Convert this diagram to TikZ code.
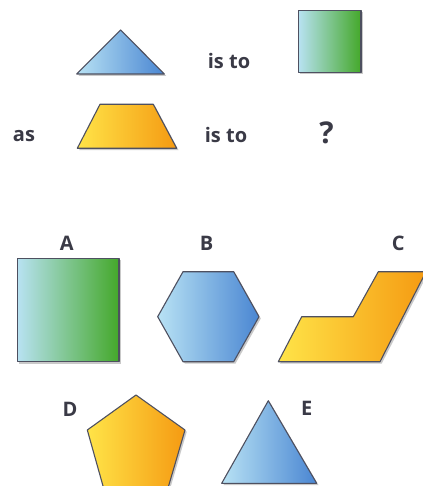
\documentclass[tikz,border=0pt]{standalone}
\usepackage{fontspec}
\setmainfont{Open Sans}
\definecolor{txt}{HTML}{3A3A46}
\definecolor{edge}{HTML}{4E5060}
\definecolor{bluelt}{HTML}{B8E2F4}
\definecolor{bluedk}{HTML}{4A86D2}
\definecolor{greenlt}{HTML}{B8E2F2}
\definecolor{greendk}{HTML}{44A82A}
\definecolor{yellt}{HTML}{FFE448}
\definecolor{yeldk}{HTML}{F59A12}
\tikzset{
  lbl/.style={font=\bfseries\fontsize{20}{24}\selectfont, text=txt, inner sep=0pt},
  shp/.style={draw=edge, line width=1.1pt, line join=round},
  blueshp/.style={shp, left color=bluelt, right color=bluedk},
  greenshp/.style={shp, left color=greenlt, right color=greendk},
  yelshp/.style={shp, left color=yellt, right color=yeldk},
  shadow/.style={fill=black!35, draw=none, opacity=0.6, shift={(1.8,1.8)}}
}
\begin{document}
\begin{tikzpicture}[x=1pt,y=-1pt]
\useasboundingbox (0,0) rectangle (422,486);
\fill[white] (0,0) rectangle (422,486);
% top row
\fill[shadow] (120.7,30) -- (164.3,74) -- (76.7,74) -- cycle;
\draw[blueshp] (120.7,30) -- (164.3,74) -- (76.7,74) -- cycle;
\node[lbl] (isto1) at (229,61) {is to};
\fill[shadow] (298.3,10.7) rectangle (361,72.7);
\draw[greenshp] (298.3,10.7) rectangle (361,72.7);
% second row
\node[lbl] (as) at (24,136) {as};
\fill[shadow] (100,104.3) -- (153.3,104.3) -- (176.7,148.3) -- (77.3,148.3) -- cycle;
\draw[yelshp] (100,104.3) -- (153.3,104.3) -- (176.7,148.3) -- (77.3,148.3) -- cycle;
\node[lbl] (isto2) at (226,135) {is to};
\node[lbl, font=\bfseries\fontsize{30}{34}\selectfont] (q) at (326.5,133) {?};
% options
\node[lbl] (la) at (66.7,243) {A};
\fill[shadow] (17.3,258.3) rectangle (119,361.7);
\draw[greenshp] (17.3,258.3) rectangle (119,361.7);
\node[lbl] (lb) at (206.7,243) {B};
\fill[shadow] (157.7,316.7) -- (183,271.7) -- (233.7,271.7) -- (259,316.7) -- (233.7,361.7) -- (183,361.7) -- cycle;
\draw[blueshp] (157.7,316.7) -- (183,271.7) -- (233.7,271.7) -- (259,316.7) -- (233.7,361.7) -- (183,361.7) -- cycle;
\node[lbl] (lc) at (398.3,243) {C};
\fill[shadow] (278.3,361.7) -- (301.7,316.7) -- (353.3,316.7) -- (378.3,271.7) -- (426,271.7) -- (380,361.7) -- cycle;
\draw[yelshp] (278.3,361.7) -- (301.7,316.7) -- (353.3,316.7) -- (378.3,271.7) -- (426,271.7) -- (380,361.7) -- cycle;
\node[lbl] (ld) at (70,409) {D};
\fill[shadow] (136,395) -- (185,430) -- (168.3,487) -- (103.3,487) -- (87.3,430) -- cycle;
\draw[yelshp] (136,395) -- (185,430) -- (168.3,487) -- (103.3,487) -- (87.3,430) -- cycle;
\node[lbl] (le) at (306.7,408) {E};
\fill[shadow] (268.3,400.7) -- (316.7,483.3) -- (221.7,483.3) -- cycle;
\draw[blueshp] (268.3,400.7) -- (316.7,483.3) -- (221.7,483.3) -- cycle;
\end{tikzpicture}
\end{document}
